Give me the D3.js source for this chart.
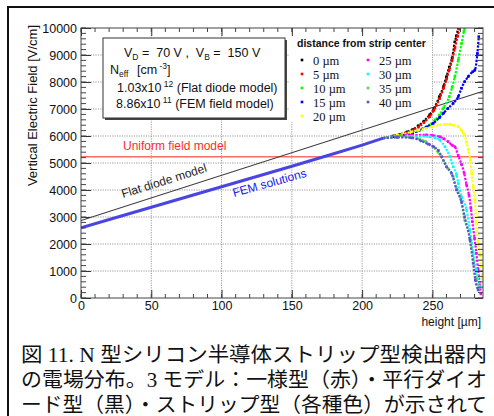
<!DOCTYPE html>
<html>
<head>
<meta charset="utf-8">
<script src="https://cdn.jsdelivr.net/npm/d3@7"></script>
<style>
  html, body { margin: 0; padding: 0; background: #fff; }
  svg { display: block; }
</style>
</head>
<body>
<script>
// ---- Data: vertical electric field [V/cm] vs height [µm] ----
const heightTicks = [0, 50, 100, 150, 200, 250];
const fieldTicks = [0, 1000, 2000, 3000, 4000, 5000, 6000, 7000, 8000, 9000, 10000];
const distanceLabels = ["0 µm", "5 µm", "10 µm", "15 µm", "20 µm", "25 µm", "30 µm", "35 µm", "40 µm"];
const distanceColors = ["#000000", "#ff0000", "#00ff00", "#0000ff", "#ffff00", "#ff00ff", "#00ffff", "#59d454", "#5954d8"];

const uniformField = 5230;                        // uniform field model
const flatDiode = [[0, 2870], [286, 7660]];       // flat diode model

// FEM solutions: common part shared by every strip distance
const femCommon = [[0, 2600], [25, 2980], [50, 3360], [75, 3740], [100, 4120], [125, 4500],
                   [150, 4880], [175, 5270], [200, 5660], [215, 5920]];

// FEM solutions near the strip side, one list per distance from strip center
const fem00 = [[215, 5920], [222, 6000], [227, 6060], [232, 6150], [236, 6240], [240, 6380], [244, 6550],
               [248, 6780], [251, 7000], [255, 7460], [258, 7850], [260, 8200], [262, 8550], [264, 8880],
               [266, 9490], [267, 9700], [268.5, 10000]];
const fem05 = [[215, 5920], [222, 5990], [227, 6040], [232, 6120], [236, 6210], [240, 6330], [244, 6500],
               [248, 6720], [251, 6950], [255, 7380], [258, 7780], [260, 8100], [262, 8450], [264, 8800],
               [266, 9250], [268, 9700], [269.5, 10000]];
const fem10 = [[215, 5920], [222, 5980], [228, 6030], [233, 6090], [238.7, 6160], [243, 6260], [248, 6410],
               [252, 6600], [255, 6780], [258, 7050], [262, 7460], [264, 7800], [266, 8200], [268.4, 8815],
               [270.7, 9430], [272.4, 9870], [273, 10000]];
const fem15 = [[215, 5920], [222, 5970], [230, 6030], [236, 6120], [241, 6220], [246, 6340], [250.6, 6470],
               [255, 6680], [258, 6850], [261, 7020], [264.8, 7210], [268.4, 7460], [270.7, 7770], [273, 8015],
               [275.5, 8200], [278.6, 8380], [280.2, 8440], [282, 9060], [283, 9680]];
const fem20 = [[215, 5920], [225, 6020], [235, 6150], [240, 6220], [245.8, 6285], [250, 6350], [255.3, 6410],
               [259, 6430], [262.4, 6430], [265, 6400], [268.4, 6345], [270.7, 6200], [272, 6100], [274.3, 5780],
               [275.5, 5480], [277, 5110], [278, 4620], [279, 4120], [280.2, 3600], [281.3, 2770], [282.5, 2100],
               [283.8, 1600], [284.9, 1160], [285.5, 700]];
const fem25 = [[215, 5920], [225, 5990], [235, 6030], [245.8, 6040], [250, 6020], [255.3, 5975], [258, 5900],
               [261.2, 5790], [264, 5660], [266, 5600], [268.4, 5270], [270.7, 4950], [272.6, 4620], [274.3, 4185],
               [276, 3815], [277.4, 3320], [278.4, 2830], [280, 2210], [281.3, 1655], [282.5, 1040], [283.8, 480],
               [284.5, 150]];
const fem30 = [[215, 5920], [225, 5970], [235, 5990], [248.2, 5975], [252, 5930], [255.3, 5850], [258.9, 5600],
               [262.4, 5235], [264.8, 4860], [267.2, 4555], [268.4, 4250], [270.7, 3750], [274.3, 3260],
               [276.7, 2520], [279, 1715], [281.3, 1040], [283.8, 420]];
const fem35 = [[215, 5920], [225, 5960], [232, 5970], [240, 5900], [245, 5800], [250, 5620], [254, 5400],
               [258, 5080], [261, 4800], [264.8, 4490], [267, 4100], [269.6, 3750], [273, 2890], [276.7, 2210],
               [279, 1410], [281.3, 730], [283, 300]];
const fem40 = [[215, 5920], [225, 5950], [235, 5930], [242, 5820], [247, 5700], [251, 5600], [254.2, 5470],
               [256.6, 5235], [260, 4860], [263.6, 4620], [267.2, 4000], [270.7, 3570], [273, 3010], [276.7, 2150],
               [279, 1285], [280.5, 670], [282.5, 300]];

const captionLines = [
  "図 11. N 型シリコン半導体ストリップ型検出器内",
  "の電場分布。3 モデル：一様型（赤）・平行ダイオ",
  "ード型（黒）・ストリップ型（各種色）が示されて"
];

// ---- Layout ----
const W = 494, H = 416;
const plot = { left: 81, right: 483, top: 28, bottom: 298 };
const sans = "'Liberation Sans', Arial, Helvetica, sans-serif";
const serif = "'Liberation Serif', 'Times New Roman', serif";
const NB = "\u00a0";

const svg = d3.select("body").append("svg").attr("width", W).attr("height", H);

const x = d3.scaleLinear().domain([0, 286]).range([plot.left, plot.right]);
const y = d3.scaleLinear().domain([0, 10000]).range([plot.bottom, plot.top]);

// outer page frame
svg.append("rect").attr("x", 8).attr("y", 7).attr("width", 520).attr("height", 440)
  .attr("fill", "none").attr("stroke", "#111").attr("stroke-width", 2);

svg.append("defs").append("clipPath").attr("id", "plotClip")
  .append("rect").attr("x", plot.left).attr("y", plot.top)
  .attr("width", plot.right - plot.left).attr("height", plot.bottom - plot.top);

// dotted grid at major ticks
const grid = svg.append("g").attr("stroke", "#9a9a9a").attr("stroke-width", 1).attr("stroke-dasharray", "1.2 1.2");
heightTicks.filter(d => d > 0).forEach(d => {
  grid.append("line").attr("x1", x(d)).attr("x2", x(d)).attr("y1", plot.top).attr("y2", plot.bottom);
});
fieldTicks.filter(d => d > 0 && d < 10000).forEach(d => {
  grid.append("line").attr("x1", plot.left).attr("x2", plot.right).attr("y1", y(d)).attr("y2", y(d));
});

// legend background (hides the grid, drawn below the curves)
svg.append("rect").attr("x", 289).attr("y", 33).attr("width", 143).attr("height", 89).attr("fill", "#fff");

const data = svg.append("g").attr("clip-path", "url(#plotClip)");

// uniform field model
data.append("line").attr("x1", plot.left).attr("x2", plot.right)
  .attr("y1", y(uniformField)).attr("y2", y(uniformField))
  .attr("stroke", "#ff6b6b").attr("stroke-width", 1.6);

// flat diode model
const line = d3.line().x(d => x(d[0])).y(d => y(d[1]));
data.append("path").attr("d", line(flatDiode)).attr("fill", "none")
  .attr("stroke", "#3a3a3a").attr("stroke-width", 1.1);

// FEM: shared part
data.append("path").attr("d", line(femCommon)).attr("fill", "none")
  .attr("stroke", "#4845e2").attr("stroke-width", 3);

// FEM: per-distance parts (dotted markers)
const curve = d3.line().x(d => x(d[0])).y(d => y(d[1])).curve(d3.curveMonotoneX);
const femSeries = [fem00, fem05, fem10, fem15, fem20, fem25, fem30, fem35, fem40];
femSeries.forEach((pts, i) => {
  const c = distanceColors[i];
  data.append("path").attr("d", curve(pts)).attr("fill", "none")
    .attr("stroke", c).attr("stroke-width", 2.2).attr("stroke-dasharray", "2.2 1.4");
  data.append("g").selectAll("rect").data(pts.slice(1)).join("rect")
    .attr("x", d => x(d[0]) - 1.3).attr("y", d => y(d[1]) - 1.3)
    .attr("width", 2.6).attr("height", 2.6).attr("fill", c);
});

// curve labels
svg.append("text").attr("transform", "translate(123,198) rotate(-17.5)")
  .attr("font-family", sans).attr("font-size", 12).attr("fill", "#222").text("Flat diode model");
svg.append("text").attr("transform", "translate(234,197) rotate(-15.5)")
  .attr("font-family", sans).attr("font-size", 12).attr("fill", "#2020ee").text("FEM solutions");
svg.append("text").attr("x", 123).attr("y", 150)
  .attr("font-family", sans).attr("font-size", 12).attr("fill", "#ff2a2a").text("Uniform field model");

// ---- parameter box ----
const pbox = svg.append("g");
pbox.append("rect").attr("x", 105).attr("y", 40).attr("width", 182).attr("height", 80).attr("fill", "#444");
pbox.append("rect").attr("x", 103).attr("y", 38).attr("width", 182).attr("height", 80)
  .attr("fill", "#fff").attr("stroke", "#333").attr("stroke-width", 1);
const pt = pbox.append("g").attr("font-family", sans).attr("font-size", 12.5).attr("fill", "#111");
const l1 = pt.append("text").attr("x", 124).attr("y", 57);
l1.append("tspan").text("V");
l1.append("tspan").attr("font-size", 8.5).attr("dy", 3).text("D");
l1.append("tspan").attr("dy", -3).text(` =${NB}${NB}70 V ,${NB}${NB}V`);
l1.append("tspan").attr("font-size", 8.5).attr("dy", 3).text("B");
l1.append("tspan").attr("dy", -3).text(` =${NB}${NB}150 V`);
const l2 = pt.append("text").attr("x", 110).attr("y", 74);
l2.append("tspan").text("N");
l2.append("tspan").attr("font-size", 8.5).attr("dy", 3).text("eff");
l2.append("tspan").attr("dy", -3).attr("x", 137).text("[cm");
l2.append("tspan").attr("font-size", 8.5).attr("dy", -5).text(" -3");
l2.append("tspan").attr("dy", 5).text("]");
const l3 = pt.append("text").attr("x", 117).attr("y", 92);
l3.append("tspan").text("1.03x10");
l3.append("tspan").attr("font-size", 8.5).attr("dy", -5).text(" 12");
l3.append("tspan").attr("dy", 5).text(" (Flat diode model)");
const l4 = pt.append("text").attr("x", 116).attr("y", 108);
l4.append("tspan").text("8.86x10");
l4.append("tspan").attr("font-size", 8.5).attr("dy", -5).text(" 11");
l4.append("tspan").attr("dy", 5).text(" (FEM field model)");

// ---- distance legend ----
const leg = svg.append("g");
leg.append("text").attr("x", 297).attr("y", 47).attr("font-family", sans).attr("font-weight", "bold")
  .attr("font-size", 10.5).attr("fill", "#111").text("distance from strip center");
const entries = leg.selectAll("g.entry").data(distanceLabels).join("g").attr("class", "entry")
  .attr("transform", (d, i) => {
    const col = i < 5 ? 0 : 1, row = i < 5 ? i : i - 5;
    return `translate(${col ? 368 : 302},${60 + row * 14})`;
  });
entries.append("rect").attr("x", -1.3).attr("y", -1.3).attr("width", 2.6).attr("height", 2.6)
  .attr("fill", (d, i) => distanceColors[i]);
entries.append("text").attr("x", 11).attr("y", 4.5).attr("font-family", serif).attr("font-size", 12.5)
  .attr("fill", "#111").text(d => d);

// ---- axes (ticks inside the frame, on all four sides) ----
const frame = svg.append("g");
frame.append("rect").attr("x", plot.left).attr("y", plot.top)
  .attr("width", plot.right - plot.left).attr("height", plot.bottom - plot.top)
  .attr("fill", "none").attr("stroke", "#444").attr("stroke-width", 1);

const xMinor = d3.range(0, 286, 10);
const yMinor = d3.range(0, 10001, 200);

const bottomAxis = d3.axisBottom(x).tickValues(heightTicks).tickSize(-8).tickPadding(3).tickFormat(d3.format("d"));
const leftAxis = d3.axisLeft(y).tickValues(fieldTicks).tickSize(-10).tickPadding(4).tickFormat(d3.format("d"));
const topAxis = d3.axisTop(x).tickValues(heightTicks).tickSize(-8).tickFormat("");
const rightAxis = d3.axisRight(y).tickValues(fieldTicks).tickSize(-8).tickFormat("");

function styleAxis(g) {
  g.select(".domain").remove();
  g.selectAll(".tick line").attr("stroke", "#333");
  g.selectAll(".tick text").attr("font-family", sans).attr("font-size", 12.5).attr("fill", "#111");
}
frame.append("g").attr("transform", `translate(0,${plot.bottom})`).call(bottomAxis).call(styleAxis);
frame.append("g").attr("transform", `translate(${plot.left},0)`).call(leftAxis).call(styleAxis);
frame.append("g").attr("transform", `translate(0,${plot.top})`).call(topAxis).call(styleAxis);
frame.append("g").attr("transform", `translate(${plot.right},0)`).call(rightAxis).call(styleAxis);

// minor ticks
const minor = frame.append("g").attr("stroke", "#444").attr("stroke-width", 1);
xMinor.forEach(d => {
  minor.append("line").attr("x1", x(d)).attr("x2", x(d)).attr("y1", plot.bottom).attr("y2", plot.bottom - 4);
  minor.append("line").attr("x1", x(d)).attr("x2", x(d)).attr("y1", plot.top).attr("y2", plot.top + 4);
});
yMinor.forEach(d => {
  minor.append("line").attr("x1", plot.left).attr("x2", plot.left + 5).attr("y1", y(d)).attr("y2", y(d));
  minor.append("line").attr("x1", plot.right).attr("x2", plot.right - 5).attr("y1", y(d)).attr("y2", y(d));
});

// axis titles
svg.append("text").attr("transform", "translate(37,25) rotate(-90)").attr("text-anchor", "end")
  .attr("font-family", sans).attr("font-size", 13).attr("fill", "#111").text("Vertical Electric Field [V/cm]");
svg.append("text").attr("x", 481).attr("y", 326).attr("text-anchor", "end")
  .attr("font-family", sans).attr("font-size", 12).attr("fill", "#111").text("height [µm]");

// ---- caption ----
const cap = svg.append("g").attr("font-family", "'Liberation Serif', 'Noto Sans CJK JP', serif")
  .attr("font-size", 20.5).attr("fill", "#111");
captionLines.forEach((t, i) => {
  cap.append("text").attr("x", 21).attr("y", 362 + i * 25)
    .attr("textLength", 466).attr("lengthAdjust", "spacingAndGlyphs").text(t);
});
</script>
</body>
</html>
